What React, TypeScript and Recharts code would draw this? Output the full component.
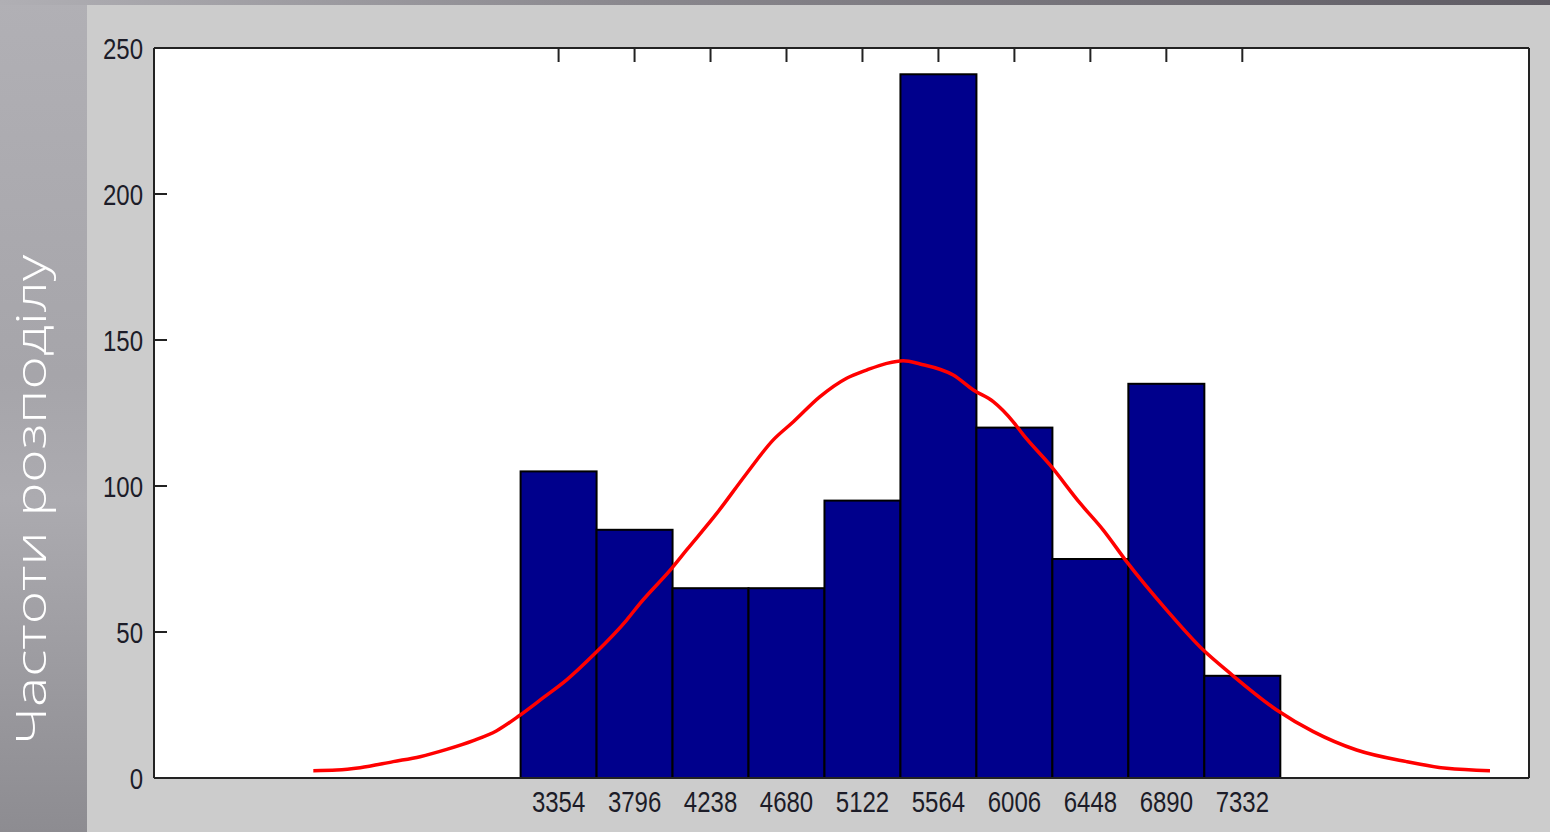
import React from "react";
import { ComposedChart, Bar, Line, XAxis, YAxis, CartesianGrid } from "recharts";

// histogram bins (centres) and counts
const binCenters = [3354, 3796, 4238, 4680, 5122, 5564, 6006, 6448, 6890, 7332];
const binCounts = [105, 85, 65, 65, 95, 241, 120, 75, 135, 35];
const yTicks = [0, 50, 100, 150, 200, 250];

// fitted normal curve
const curveX = [
  1927, 2063, 2199, 2392, 2548, 2703, 2858, 2994, 3129, 3265, 3401, 3556, 3750, 3828, 4012, 4099,
  4274, 4448, 4603, 4720, 4875, 5030, 5146, 5263, 5359, 5457, 5650, 5767, 5883, 5999, 6058,
  6213, 6388, 6523, 6659, 6892, 7105, 7260, 7532, 7745, 7997, 8288, 8521, 8773,
];
const curveY = [
  2.5, 2.7, 3.5, 5.6, 7.3, 9.8, 12.8, 16.2, 21.5, 27.5, 33.6, 42.1, 54.1, 59.8, 71.8, 78.1,
  90.6, 104.3, 115.8, 122.0, 130.6, 136.9, 139.7, 142.0, 142.9, 141.8, 138.0, 132.9, 128.9, 122.0, 117.5,
  107.2, 94.1, 84.9, 74.1, 57.5, 43.8, 35.9, 23.3, 15.9, 9.6, 5.6, 3.3, 2.5,
];

const bars = binCenters.map((x, i) => ({ x, count: binCounts[i] }));
const curve = curveX.map((x, i) => ({ x, fit: curveY[i] }));

const AXIS = "#222";
const LABEL = "#1c1c28";
const FONT = "'Liberation Sans', Arial, sans-serif";
const BIN_PX = 76; // one bin (442 units) on this axis

const LeftTick = (p: any) => (
  <g>
    <line x1={p.x} y1={p.y} x2={p.x + 13} y2={p.y} stroke={AXIS} strokeWidth={2} />
    <text
      transform={`translate(${p.x - 11},${p.y + 11}) scale(0.8,1)`}
      textAnchor="end"
      fontSize={30}
      fontFamily={FONT}
      fill={LABEL}
    >
      {p.payload.value}
    </text>
  </g>
);

const RightTick = (p: any) => (
  <line x1={p.x} y1={p.y} x2={p.x - 15} y2={p.y} stroke={AXIS} strokeWidth={2} />
);

const TopTick = (p: any) => (
  <line x1={p.x} y1={p.y} x2={p.x} y2={p.y + 14} stroke={AXIS} strokeWidth={2} />
);

const BottomTick = (p: any) => (
  <text
    transform={`translate(${p.x},${p.y + 34}) scale(0.8,1)`}
    textAnchor="middle"
    fontSize={30}
    fontFamily={FONT}
    fill={LABEL}
  >
    {p.payload.value}
  </text>
);

// histogram bar: centred on the bin value, full bin width
const HistBar = (p: any) => {
  const cx = p.x + (p.width || 0) / 2;
  return (
    <rect
      x={cx - BIN_PX / 2}
      y={p.y}
      width={BIN_PX}
      height={p.height}
      fill="#00008c"
      stroke="#000"
      strokeWidth={2}
    />
  );
};

export default function App() {
  return (
    <div
      style={{
        position: "absolute",
        left: 0,
        top: 0,
        width: 1550,
        height: 832,
        overflow: "hidden",
        background: "linear-gradient(180deg, #b1b0b5 0%, #a6a5aa 45%, #acabb0 60%, #8d8c91 100%)",
      }}
    >
      {/* dark strip along the top */}
      <div
        style={{
          position: "absolute",
          left: 0,
          top: 0,
          width: 1550,
          height: 5,
          background: "linear-gradient(90deg, #b0afb4 0%, #8a888e 40%, #5e5b63 100%)",
        }}
      />
      {/* vertical title */}
      <svg width={87} height={832} style={{ position: "absolute", left: 0, top: 0 }}>
        <text
          transform="translate(46,500) rotate(-90)"
          textAnchor="middle"
          fontSize={42}
          fontWeight={300}
          fontFamily="'Open Sans', 'Noto Sans', sans-serif"
          fill="#ffffff"
          textLength={490}
          lengthAdjust="spacingAndGlyphs"
        >
          Частоти розподілу
        </text>
      </svg>
      <div style={{ position: "absolute", left: 87, top: 5, width: 1463, height: 827, background: "#cccccc" }}>
        <ComposedChart width={1463} height={827} data={bars} margin={{ top: 0, right: 0, bottom: 0, left: 0 }}>
          <CartesianGrid
            xAxisId="bottom"
            yAxisId="left"
            horizontal={false}
            vertical={false}
            fill="#ffffff"
            fillOpacity={1}
          />
          <XAxis
            xAxisId="bottom"
            dataKey="x"
            type="number"
            domain={[1000, 9000]}
            allowDataOverflow
            ticks={binCenters}
            interval={0}
            height={54}
            tickSize={0}
            tickMargin={0}
            tickLine={false}
            axisLine={{ stroke: AXIS, strokeWidth: 2 }}
            tick={<BottomTick />}
          />
          <XAxis
            xAxisId="top"
            orientation="top"
            dataKey="x"
            type="number"
            domain={[1000, 9000]}
            allowDataOverflow
            ticks={binCenters}
            interval={0}
            height={43}
            tickSize={0}
            tickMargin={0}
            tickLine={false}
            axisLine={{ stroke: AXIS, strokeWidth: 2 }}
            tick={<TopTick />}
          />
          <YAxis
            yAxisId="left"
            type="number"
            domain={[0, 250]}
            ticks={yTicks}
            interval={0}
            width={67}
            tickSize={0}
            tickMargin={0}
            tickLine={false}
            axisLine={{ stroke: AXIS, strokeWidth: 2 }}
            tick={<LeftTick />}
          />
          <YAxis
            yAxisId="right"
            orientation="right"
            type="number"
            domain={[0, 250]}
            ticks={yTicks}
            interval={0}
            width={21}
            tickSize={0}
            tickMargin={0}
            tickLine={false}
            axisLine={{ stroke: AXIS, strokeWidth: 2 }}
            tick={<RightTick />}
          />
          <Bar
            xAxisId="bottom"
            yAxisId="left"
            dataKey="count"
            shape={<HistBar />}
            isAnimationActive={false}
          />
          <Line
            xAxisId="bottom"
            yAxisId="left"
            data={curve}
            dataKey="fit"
            type="monotone"
            stroke="#ff0000"
            strokeWidth={3.5}
            dot={false}
            isAnimationActive={false}
          />
        </ComposedChart>
      </div>
    </div>
  );
}
